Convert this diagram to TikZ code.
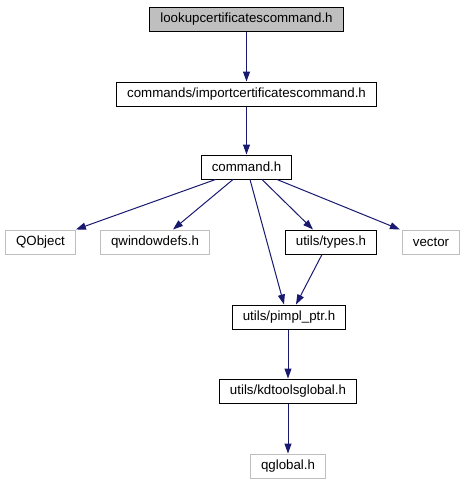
\documentclass[tikz,border=0pt]{standalone}
\usepackage{fontspec}
\setmainfont{Liberation Sans}
\usepackage{xcolor}
\usetikzlibrary{arrows.meta,positioning}
\definecolor{edgeblue}{HTML}{191970}
\definecolor{greyline}{HTML}{BFBFBF}
\definecolor{greyfill}{HTML}{BFBFBF}
\tikzset{
  box/.style={
    draw=black,fill=white,line width=1pt,
    minimum height=24pt,inner xsep=10.5pt,inner ysep=0pt,
    font=\fontsize{13.3}{15}\selectfont
  },
  mainbox/.style={box,fill=greyfill},
  extbox/.style={box,draw=greyline},
  arrow/.style={-{Triangle[length=10pt,width=7pt]},draw=edgeblue,line width=1pt}
}
\begin{document}
\begin{tikzpicture}[x=1pt,y=-1pt]
\useasboundingbox (0,0) rectangle (466,485);

\node[mainbox] (lookup) at (246.5,19) {lookupcertificatescommand.h};
\node[box] (import) at (246.5,94) {commands/importcertificatescommand.h};
\node[box] (command) at (246.5,167) {command.h};

\node[extbox] (qobject) at (40.5,242) {QObject};
\node[extbox] (qwindowdefs) at (155,242) {qwindowdefs.h};
\node[box] (types) at (331,242) {utils/types.h};
\node[extbox] (vector) at (431,242) {vector};

\node[box] (pimpl) at (289,317) {utils/pimpl\_ptr.h};
\node[box] (kdtools) at (288,391) {utils/kdtoolsglobal.h};
\node[extbox] (qglobal) at (288,466) {qglobal.h};

\draw[arrow] (lookup)--(import);
\draw[arrow] (import)--(command);
\draw[arrow] ([xshift=-31pt]command.south)--(qobject.north east);
\draw[arrow] ([xshift=-13.5pt]command.south)--([xshift=18pt]qwindowdefs.north);
\draw[arrow] ([xshift=3.5pt]command.south)--([xshift=-5pt]pimpl.north);
\draw[arrow] ([xshift=15.5pt]command.south)--([xshift=-18pt]types.north);
\draw[arrow] ([xshift=30.5pt]command.south)--([xshift=-2pt]vector.north west);
\draw[arrow] ([xshift=-9pt]types.south)--([xshift=7pt]pimpl.north);
\draw[arrow] ([xshift=-1pt]pimpl.south)--(kdtools);
\draw[arrow] (kdtools)--(qglobal);
\end{tikzpicture}
\end{document}
